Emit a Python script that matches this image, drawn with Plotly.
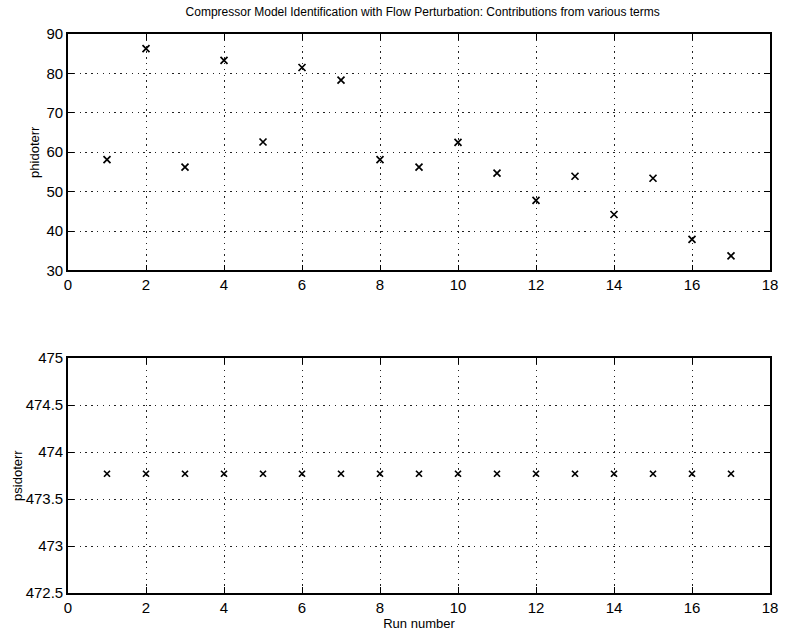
import plotly.graph_objects as go
from plotly.subplots import make_subplots

runs = list(range(1, 18))
phidoterr = [58.1, 86.3, 56.2, 83.3, 62.6, 81.5, 78.3, 58.1, 56.2, 62.5,
             54.7, 47.8, 53.9, 44.2, 53.4, 37.9, 33.7]
psidoterr = [473.77] * 17

title = "Compressor Model Identification with Flow Perturbation: Contributions from various terms"

fig = make_subplots(rows=2, cols=1, vertical_spacing=0.0)
fig.add_trace(go.Scatter(x=runs, y=phidoterr, mode="markers",
                         marker=dict(symbol="x-thin", size=7, color="black",
                                     line=dict(width=1.7, color="black"))),
              row=1, col=1)
fig.add_trace(go.Scatter(x=runs, y=psidoterr, mode="markers",
                         marker=dict(symbol="x-thin", size=6, color="black",
                                     line=dict(width=1.7, color="black"))),
              row=2, col=1)

font_family = "Liberation Sans, Arial"
axis_common = dict(showline=True, linecolor="black", linewidth=1.6, mirror="ticks",
                   ticks="inside", ticklen=6, tickcolor="black", tickwidth=1.3,
                   showgrid=True, gridcolor="#222222", griddash="1.3px,4.5px", gridwidth=1.3,
                   zeroline=False,
                   tickfont=dict(family=font_family, size=15, color="black"))

fig.update_xaxes(range=[0, 18], dtick=2, **axis_common)
fig.update_yaxes(**axis_common)
fig.update_layout(
    xaxis=dict(domain=[0, 1], anchor="y"),
    yaxis=dict(domain=[0.577, 1], range=[30, 90], dtick=10,
               title=dict(text="phidoterr", standoff=4,
                          font=dict(family=font_family, size=13, color="black"))),
    xaxis2=dict(domain=[0, 1], anchor="y2",
                title=dict(text="Run number", standoff=0,
                           font=dict(family=font_family, size=13, color="black"))),
    yaxis2=dict(domain=[0, 0.42], range=[472.5, 475], dtick=0.5,
                title=dict(text="psidoterr", standoff=0,
                           font=dict(family=font_family, size=13, color="black"))),
    title=dict(text=title, x=0.535, xanchor="center", y=0.988, yanchor="top",
               font=dict(family=font_family, size=12, color="black")),
    showlegend=False,
    width=790, height=637,
    margin=dict(l=68, r=12, t=34, b=43),
    plot_bgcolor="white", paper_bgcolor="white",
)
fig.write_html("out.html")
